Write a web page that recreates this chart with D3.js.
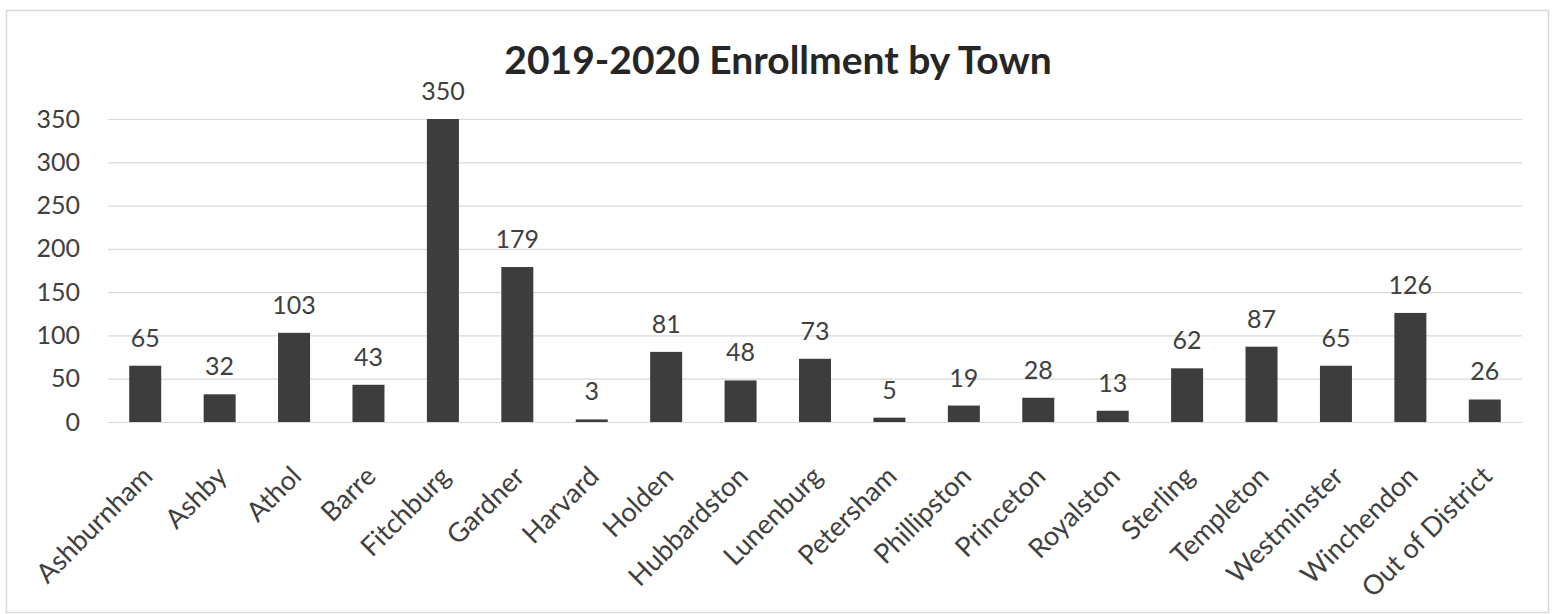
<!DOCTYPE html>
<html>
<head>
<meta charset="utf-8">
<script src="https://cdn.jsdelivr.net/npm/d3@7"></script>
<style>
  html, body { margin: 0; padding: 0; background: #ffffff; }
  svg { display: block; }
  text { font-family: Lato, "Open Sans", sans-serif; }
</style>
</head>
<body>
<div id="chart"></div>
<script>
const title = "2019-2020 Enrollment by Town";
const towns = ["Ashburnham","Ashby","Athol","Barre","Fitchburg","Gardner","Harvard","Holden","Hubbardston","Lunenburg","Petersham","Phillipston","Princeton","Royalston","Sterling","Templeton","Westminster","Winchendon","Out of District"];
const enrollment = [65,32,103,43,350,179,3,81,48,73,5,19,28,13,62,87,65,126,26];
const yTicks = [0,50,100,150,200,250,300,350];

const W = 1556, H = 614;
const margin = {left: 108, right: 34, top: 119, bottom: 192};

const svg = d3.select("#chart").append("svg")
  .attr("width", W).attr("height", H);

svg.append("rect").attr("x", 0).attr("y", 0).attr("width", W).attr("height", H).attr("fill", "#fff");
svg.append("rect")
  .attr("x", 6.5).attr("y", 10.5).attr("width", 1542).attr("height", 602)
  .attr("fill", "none").attr("stroke", "#d9d9d9").attr("stroke-width", 1.5);

const x = d3.scaleBand().domain(towns).range([margin.left, W - margin.right]).paddingInner(0.57).paddingOuter(0.285);
const y = d3.scaleLinear().domain([0, 350]).range([H - margin.bottom, margin.top]);

// gridlines
const grid = svg.append("g").attr("class", "grid")
  .attr("transform", `translate(${margin.left},0)`)
  .call(d3.axisLeft(y).tickValues(yTicks).tickSize(-(W - margin.right - margin.left)).tickFormat(""));
grid.select(".domain").remove();
grid.selectAll("line").attr("stroke", "#d9d9d9").attr("stroke-width", 1.2);

// y axis labels
const yAxis = svg.append("g")
  .attr("transform", `translate(${margin.left},0)`)
  .call(d3.axisLeft(y).tickValues(yTicks).tickSize(0).tickPadding(28));
yAxis.select(".domain").remove();
yAxis.selectAll("text").attr("font-size", 25).attr("fill", "#404040")
  .attr("font-family", "Lato, 'Open Sans', sans-serif");

// bars
svg.append("g").selectAll("rect").data(towns).join("rect")
  .attr("x", d => x(d))
  .attr("width", x.bandwidth())
  .attr("y", (d, i) => y(enrollment[i]))
  .attr("height", (d, i) => y(0) - y(enrollment[i]))
  .attr("fill", "#3d3d3d");

// data labels
svg.append("g").selectAll("text").data(towns).join("text")
  .attr("x", d => x(d) + x.bandwidth() / 2)
  .attr("y", (d, i) => y(enrollment[i]) - 19)
  .attr("text-anchor", "middle")
  .attr("font-size", 25)
  .attr("fill", "#404040")
  .text((d, i) => enrollment[i]);

// x axis category labels
const xAxis = svg.append("g")
  .attr("transform", `translate(0,${y(0)})`)
  .call(d3.axisBottom(x).tickSize(0).tickPadding(0));
xAxis.select(".domain").remove();
xAxis.selectAll("text")
  .attr("font-size", 27)
  .attr("fill", "#404040")
  .attr("font-family", "Lato, 'Open Sans', sans-serif")
  .attr("text-anchor", "end")
  .attr("dy", 0)
  .attr("y", 0)
  .attr("transform", "translate(9,56) rotate(-45)");

// title
svg.append("text")
  .attr("x", 778).attr("y", 74)
  .attr("text-anchor", "middle")
  .attr("font-size", 39)
  .attr("font-weight", "bold")
  .attr("fill", "#262626")
  .text(title);
</script>
</body>
</html>
